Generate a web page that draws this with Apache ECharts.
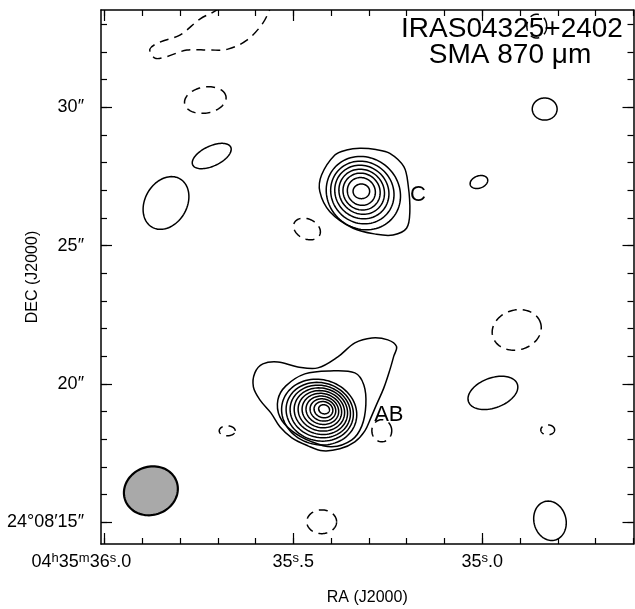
<!DOCTYPE html>
<html><head><meta charset="utf-8">
<script src="https://cdn.jsdelivr.net/npm/echarts@6/dist/echarts.min.js"></script>
<style>html,body{margin:0;padding:0;background:#fff}#c{width:635px;height:609px}</style>
</head><body><div id="c"></div>
<script>
// ---- axis ranges & ticks (RA seconds of 04h35m, Dec arcsec of +24d08m) ----
const RA_MIN = 34.60, RA_MAX = 36.009;
const DEC_MIN = 14.215, DEC_MAX = 33.52;
const DEC_REF = 24.1375;
const raMinorTicks = [34.6,34.7,34.8,34.9,35.0,35.1,35.2,35.3,35.4,35.5,35.6,35.7,35.8,35.9,36.0];
const raMajorTicks = [35.0,35.5,36.0];
const decMinorTicks = [15,16,17,18,19,20,21,22,23,24,25,26,27,28,29,30,31,32,33];
const decMajorTicks = [15,20,25,30];

// ---- contours: ellipses [RA(s), Dec("), semi-major("), semi-minor("), PA(deg, from west toward north)] ----
const positiveBlobs = [
  [35.716, 28.241, 0.76, 0.36, 25],
  [35.837, 26.543, 1.01, 0.76, 60],
  [35.009, 27.301, 0.33, 0.22, 20],
  [34.835, 29.939, 0.45, 0.40, 0],
  [34.972, 19.678, 0.94, 0.54, 20],
  [34.821, 15.054, 0.72, 0.58, 105]
];
const negativeBlobs = [
  [35.733, 30.264, 0.76, 0.47, 10],
  [35.464, 25.603, 0.51, 0.36, -25],
  [34.909, 21.954, 0.90, 0.72, 15],
  [34.827, 18.342, 0.25, 0.18, 0],
  [35.675, 18.306, 0.29, 0.18, 0],
  [35.266, 18.310, 0.36, 0.40, 0],
  [35.425, 15.018, 0.54, 0.43, 0],
  [34.856, 32.937, 0.36, 0.43, 0]
];
const sourceCRings = [
  [35.3201, 26.965, 0.30, 0.265, 0],
  [35.3201, 26.960, 0.52, 0.49, -40],
  [35.3195, 26.955, 0.69, 0.65, -40],
  [35.3192, 26.950, 0.85, 0.79, -40],
  [35.3188, 26.940, 1.01, 0.94, -40],
  [35.3175, 26.922, 1.18, 1.10, -40],
  [35.3148, 26.900, 1.39, 1.28, -40]
];
const sourceABRings = [
  [35.4188, 19.084, 0.199, 0.163, -15],
  [35.4204, 19.072, 0.344, 0.289, -15],
  [35.4218, 19.061, 0.470, 0.398, -15],
  [35.4233, 19.050, 0.597, 0.506, -15],
  [35.4246, 19.039, 0.723, 0.615, -15],
  [35.4259, 19.028, 0.850, 0.723, -15],
  [35.4272, 19.017, 0.976, 0.832, -15],
  [35.4288, 19.006, 1.103, 0.940, -15],
  [35.4302, 18.996, 1.230, 1.049, -15],
  [35.4317, 18.983, 1.374, 1.175, -15]
];
// irregular contours as [RA, Dec] vertices
const sourceCOuter = [
  [35.3241,28.519],[35.2817,28.475],[35.2447,28.338],[35.2077,27.854],[35.1963,27.193],
  [35.1918,26.228],[35.2005,25.629],[35.2360,25.387],[35.2799,25.412],[35.3418,25.629],
  [35.4034,26.228],[35.4299,26.951],[35.4254,27.554],[35.3902,28.277],[35.3593,28.457]
];
const sourceABSecond = [
  [35.3373,20.401],[35.4034,20.473],[35.4696,20.365],[35.5198,19.931],[35.5410,19.426],
  [35.5357,18.811],[35.5040,18.306],[35.4511,17.908],[35.3981,17.728],[35.3452,17.981],
  [35.3188,18.486],[35.3082,19.245],[35.3135,19.967]
];
const sourceABOuter = [
  [35.2270,21.351],[35.2341,21.015],[35.2447,20.509],[35.2606,19.859],[35.2791,19.281],
  [35.2950,18.775],[35.3108,18.306],[35.3373,17.908],[35.3770,17.655],[35.4220,17.583],
  [35.4616,17.764],[35.5040,18.053],[35.5357,18.450],[35.5595,18.956],[35.5886,19.426],
  [35.6058,19.895],[35.6019,20.401],[35.5807,20.726],[35.5410,20.798],[35.4881,20.618],
  [35.4352,20.582],[35.3823,20.979],[35.3373,21.485],[35.2923,21.665],[35.2500,21.593]
];
const negativeTopArc = [
  [35.6627,33.876],[35.7077,33.479],[35.7474,33.190],[35.8003,32.612],[35.8532,32.359],
  [35.8796,32.106],[35.8664,31.781],[35.8399,31.817],[35.7817,32.070],[35.7209,32.070],
  [35.6733,32.106],[35.6230,32.431],[35.5807,33.046],[35.5569,33.696],[35.5489,33.876]
];
const beam = [35.877, 16.138, 0.99, 0.87, 20];
const sourceLabels = [[35.1706, 26.832, 'C'], [35.2474, 18.884, 'AB']];

// ---- build contour list ----
const contours = [];
positiveBlobs.forEach(e => contours.push({kind:'ell', p:e, neg:false}));
negativeBlobs.forEach(e => contours.push({kind:'ell', p:e, neg:true}));
sourceCRings.forEach(e => contours.push({kind:'ell', p:e, neg:false}));
sourceABRings.forEach(e => contours.push({kind:'ell', p:e, neg:false}));
contours.push({kind:'poly', p:sourceCOuter, neg:false});
contours.push({kind:'poly', p:sourceABSecond, neg:false});
contours.push({kind:'poly', p:sourceABOuter, neg:false});
contours.push({kind:'open', p:negativeTopArc, neg:true});
contours.push({kind:'ell', p:beam, neg:false, beam:true});

function ellipseVerts(e) {
  const [ra, dec, a, b, pa] = e;
  const k = 15 * Math.cos(DEC_REF * Math.PI / 180);
  const th = pa * Math.PI / 180, out = [];
  for (let i = 0; i < 90; i++) {
    const t = 2 * Math.PI * i / 90;
    const dx = a * Math.cos(t) * Math.cos(th) - b * Math.sin(t) * Math.sin(th);
    const dy = a * Math.cos(t) * Math.sin(th) + b * Math.sin(t) * Math.cos(th);
    out.push([ra - dx / k, dec + dy]);
  }
  return out;
}

const chart = echarts.init(document.getElementById('c'), null, {renderer:'canvas'});
const FONT = 'Liberation Sans';
const GRID = {left:101, top:10, right:1.5, bottom:65, containLabel:false, outerBoundsMode:'none'};

function raLabel(v) {
  if (Math.abs(v - 36.0) < 1e-6) return '{n|04}{u|h}{n|35}{u|m}{n|36}{u|s}{n|.0}{pad|}';
  if (Math.abs(v - 35.5) < 1e-6) return '{n|35}{u|s}{n|.5}';
  if (Math.abs(v - 35.0) < 1e-6) return '{n|35}{u|s}{n|.0}';
  return '';
}
function decLabel(v) {
  if (Math.abs(v - 15) < 1e-6) return '24°08′15″';
  return Math.round(v) + '″';
}
const lineC = '#000';
function xAx(grid, pos, ticks, len, labels) {
  return {
    gridIndex: grid, type:'value', position: pos, min: RA_MIN, max: RA_MAX, inverse: true,
    axisLine: {show: grid === 0, lineStyle:{color:lineC, width:1.5}},
    axisTick: {show:true, inside:true, length:len, customValues: ticks, lineStyle:{color:lineC, width:1.2}},
    axisLabel: labels ? {
      show:true, customValues: raMajorTicks, formatter: raLabel, margin: 8, color:'#000',
      fontFamily: FONT, fontSize: 18,
      rich: {
        n:{fontSize:18, fontFamily:FONT, color:'#000', lineHeight:20},
        u:{fontSize:13, fontFamily:FONT, color:'#000', lineHeight:20, verticalAlign:'top', padding:[0,0,8,0]},
        pad:{width:46}
      }
    } : {show:false},
    splitLine:{show:false},
    name: labels ? 'RA (J2000)' : '', nameLocation:'middle', nameGap: 46, nameMoveOverlap: false,
    nameTextStyle:{fontFamily:FONT, fontSize:16, color:'#000'}
  };
}
function yAx(grid, pos, ticks, len, labels) {
  return {
    gridIndex: grid, type:'value', position: pos, min: DEC_MIN, max: DEC_MAX,
    axisLine: {show: grid === 0, lineStyle:{color:lineC, width:1.5}},
    axisTick: {show:true, inside:true, length:len, customValues: ticks, lineStyle:{color:lineC, width:1.2}},
    axisLabel: labels ? {show:true, customValues: decMajorTicks, formatter: decLabel, margin: 17,
      color:'#000', fontFamily: FONT, fontSize: 18} : {show:false},
    splitLine:{show:false},
    name: labels ? 'DEC (J2000)' : '', nameLocation:'middle', nameGap: 60, nameRotate: 90, nameMoveOverlap: false,
    nameTextStyle:{fontFamily:FONT, fontSize:16, color:'#000'}
  };
}

const option = {
  animation: false,
  backgroundColor: '#fff',
  title: [
    {text:'IRAS04325+2402', left: 507, top: 10, textAlign:'center',
     textStyle:{fontFamily:FONT, fontSize:28, fontWeight:'normal', color:'#000'}},
    {text:'SMA 870 μm', left: 505, top: 36, textAlign:'center',
     textStyle:{fontFamily:FONT, fontSize:28, fontWeight:'normal', color:'#000'}}
  ],
  grid: [Object.assign({}, GRID), Object.assign({}, GRID)],
  xAxis: [
    xAx(0, 'bottom', raMinorTicks, 6, false),
    xAx(0, 'top', raMinorTicks, 6, false),
    xAx(1, 'bottom', raMajorTicks, 11, true),
    xAx(1, 'top', raMajorTicks, 11, false)
  ],
  yAxis: [
    yAx(0, 'left', decMinorTicks, 6, false),
    yAx(0, 'right', decMinorTicks, 6, false),
    yAx(1, 'left', decMajorTicks, 11, true),
    yAx(1, 'right', decMajorTicks, 11, false)
  ],
  series: [
    {
      type:'custom', xAxisIndex:0, yAxisIndex:0,
      data: contours.map((c, i) => [c.kind === 'ell' ? c.p[0] : c.p[0][0], c.kind === 'ell' ? c.p[1] : c.p[0][1], i]),
      encode:{x:0, y:1},
      renderItem: function(params, api) {
        const c = contours[api.value(2)];
        const verts = c.kind === 'ell' ? ellipseVerts(c.p) : c.p;
        const pts = verts.map(p => api.coord(p));
        const cs = params.coordSys;
        const style = {
          fill: c.beam ? '#a9a9a9' : 'none',
          stroke: '#000',
          lineWidth: c.beam ? 2.2 : 1.5,
          lineDash: c.neg ? [9, 6] : null
        };
        return {
          type:'group',
          clipPath: {type:'rect', shape:{x:cs.x, y:cs.y, width:cs.width, height:cs.height}},
          children: [{
            type: c.kind === 'open' ? 'polyline' : 'polygon',
            shape: {points: pts, smooth: c.kind === 'ell' ? 0 : 0.35},
            style: style
          }]
        };
      },
      z: 3
    },
    {
      type:'custom', xAxisIndex:0, yAxisIndex:0,
      data: sourceLabels.map(s => [s[0], s[1]]),
      encode:{x:0, y:1},
      renderItem: function(params, api) {
        const pt = api.coord([api.value(0), api.value(1)]);
        return {
          type:'text', x: pt[0], y: pt[1],
          style:{text: sourceLabels[params.dataIndex][2], fill:'#000', font: '22px "Liberation Sans"',
                 align:'center', verticalAlign:'middle'}
        };
      },
      z: 4
    }
  ]
};
chart.setOption(option);
</script>
</body></html>
